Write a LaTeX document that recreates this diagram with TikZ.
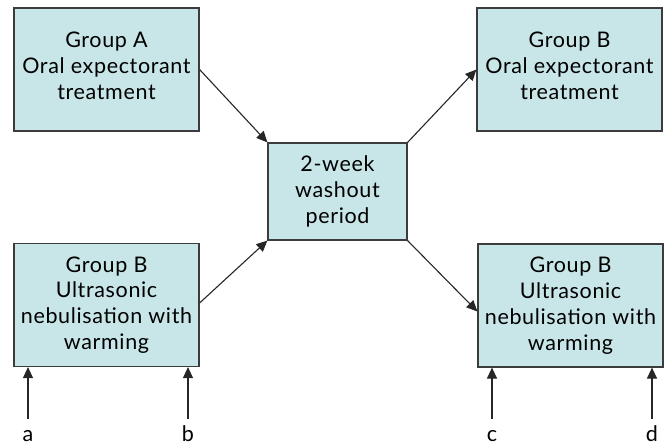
\documentclass[tikz,border=0pt]{standalone}
\usepackage{fontspec}
\setmainfont{Lato}[LetterSpace=3]
\usetikzlibrary{arrows.meta}
\definecolor{boxfill}{HTML}{C8E6E8}
\definecolor{boxline}{HTML}{3C3C3C}

\begin{document}
\begin{tikzpicture}[x=1pt,y=-1pt,
        box/.style={draw=boxline,fill=boxfill,line width=1.2pt,align=center,
                    minimum width=185pt,minimum height=123pt,inner sep=0pt,
                    font=\fontsize{21.5}{25.8}\selectfont},
        lbl/.style={inner sep=0pt,text height=15pt,text depth=0pt,anchor=base,
                    font=\fontsize{21.5}{25.8}\selectfont},
        >={Triangle[length=11pt,width=10pt]},
        arr/.style={->,color=black!85,line width=1.1pt}]

        \useasboundingbox (0,0) rectangle (670,447);

        \node[box, text depth=7pt]
                    (G01) at (106.5,69.5)  {Group A\\Oral expectorant\\treatment};
        \node[box]  (G02) at (106.5,305)   {Group B\\Ultrasonic\\nebulisation with\\warming};
        \node[box, minimum width=139pt, minimum height=97pt]
                    (W01) at (337.5,191.5) {2-week\\washout\\period};
        \node[box, text depth=7pt]
                    (G03) at (569.5,69.5)  {Group B\\Oral expectorant\\treatment};
        \node[box]  (G04) at (570.5,305.5) {Group B\\Ultrasonic\\nebulisation with\\warming};

        \node[lbl]  (L01) at (28,441)  {a};
        \node[lbl]  (L02) at (188,441) {b};
        \node[lbl]  (L03) at (492,441) {c};
        \node[lbl]  (L04) at (652,441) {d};

        \path[arr]
                  (G01.east)                    edge (W01.north west)
                  ([yshift=2pt]G02.east)        edge (W01.south west)
                  (W01.north east)              edge (G03.west)
                  (W01.south east)              edge ([yshift=-6pt]G04.west);

        \path[arr, shorten <=7pt]
                  (L01) edge (L01 |- G02.south)
                  (L02) edge (L02 |- G02.south)
                  (L03) edge (L03 |- G04.south)
                  (L04) edge (L04 |- G04.south);
      \end{tikzpicture}
\end{document}
